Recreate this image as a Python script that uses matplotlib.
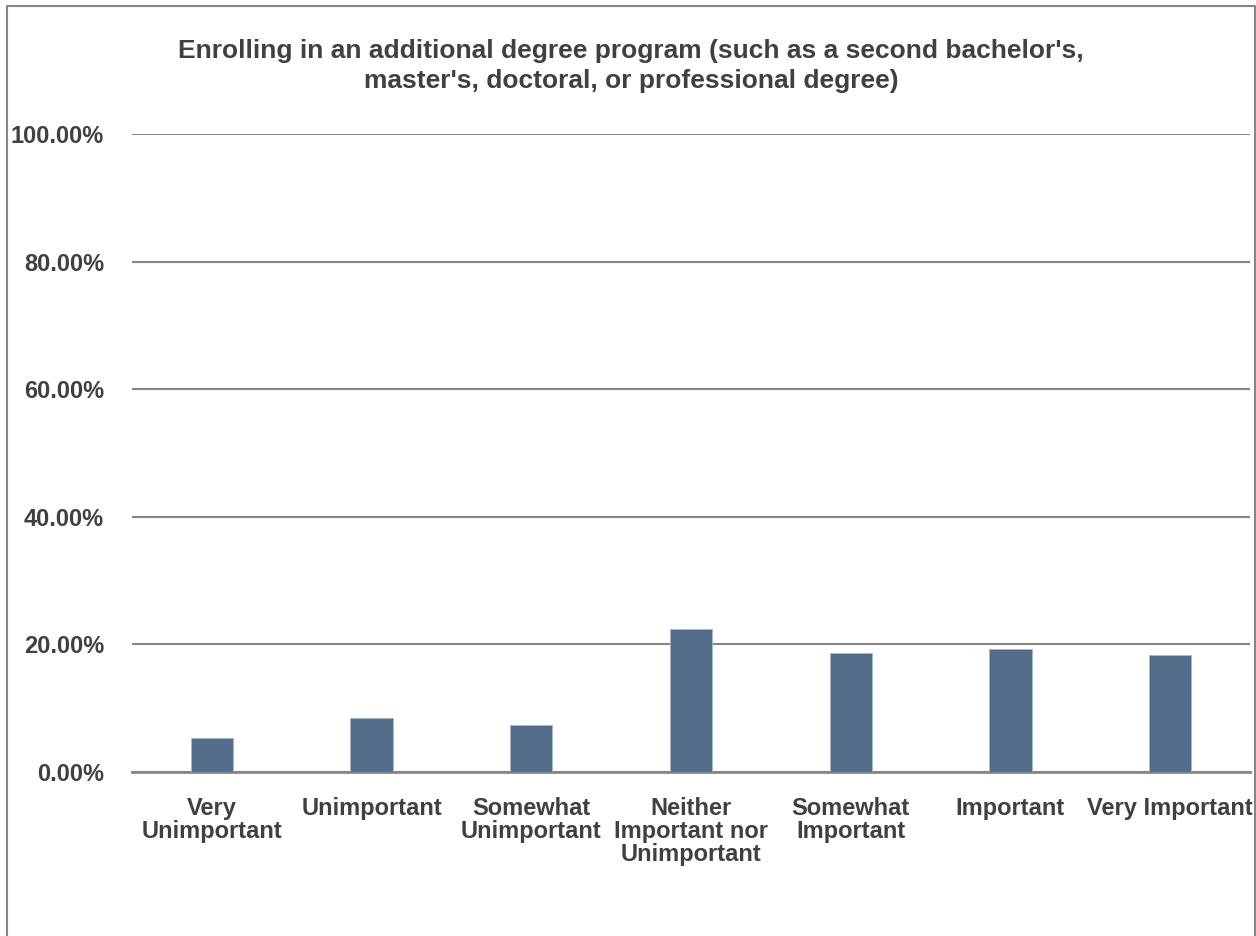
import matplotlib.pyplot as plt
from matplotlib.lines import Line2D
import numpy as np

plt.rcParams['font.family'] = ['Liberation Sans Narrow', 'Liberation Sans', 'DejaVu Sans']

categories = ['Very\nUnimportant', 'Unimportant', 'Somewhat\nUnimportant',
              'Neither\nImportant nor\nUnimportant', 'Somewhat\nImportant',
              'Important', 'Very Important']
values = [5.28, 8.41, 7.36, 22.4, 18.59, 19.33, 18.38]
yticks = [0, 20, 40, 60, 80, 100]
title = ("Enrolling in an additional degree program (such as a second bachelor's,\n"
         "master's, doctoral, or professional degree)")

text_col = '#404040'
grid_col = '#868686'
bar_col = '#536d8a'

W, H = 1256, 936
fig = plt.figure(figsize=(W / 100, H / 100), dpi=100)
ax = fig.add_axes([132 / W, 1 - 772 / H, 1118 / W, 638 / H])

x = np.arange(len(categories))
ax.bar(x, values, width=0.265, color=bar_col, edgecolor='#a9b8c8', linewidth=0.6, zorder=3)

ax.set_xlim(-0.5, len(categories) - 0.5)
ax.set_ylim(0, 100)
ax.set_yticks(yticks)
ax.set_yticklabels(['%.2f%%' % v for v in yticks])
ax.set_xticks(x)
ax.set_xticklabels(categories)
ax.yaxis.grid(True, color=grid_col, linewidth=1.5, zorder=0)
ax.tick_params(axis='y', length=0, labelcolor=text_col, labelsize=17, pad=20)
ax.tick_params(axis='x', length=0, labelcolor=text_col, labelsize=17, pad=18)
for lab in ax.get_xticklabels() + ax.get_yticklabels():
    lab.set_fontweight('bold')
for lab in ax.get_xticklabels():
    lab.set_verticalalignment('top')
    lab.set_linespacing(1.0)
for s in ['top', 'right', 'left']:
    ax.spines[s].set_visible(False)
ax.spines['bottom'].set_color(grid_col)
ax.spines['bottom'].set_linewidth(2)

fig.text(0.5025, 1 - 66 / H, title, ha='center', va='center', fontsize=19,
         fontweight='bold', color=text_col, linespacing=1.35)

# chart border: left, top, right (open at the bottom)
bx0, bx1, by = 6.5 / W, 1254.5 / W, 1 - 5.5 / H
fig.add_artist(Line2D([bx0, bx0, bx1, bx1], [0, by, by, 0], transform=fig.transFigure,
                      color=grid_col, linewidth=1.5))

fig.savefig('out.png', dpi=100)
